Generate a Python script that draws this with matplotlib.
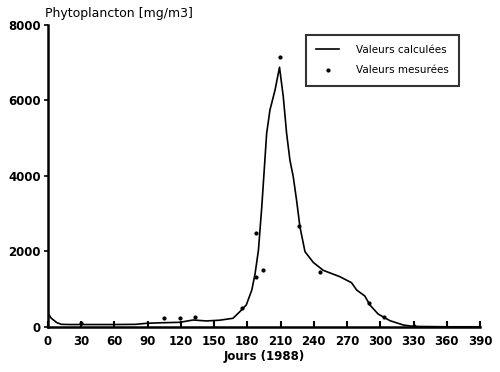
import matplotlib
matplotlib.use("Agg")
import matplotlib.pyplot as plt

# calculated values
calc_days = [0, 3, 8, 12, 20, 40, 60, 79, 89, 100, 119, 131, 143, 155, 167,
             173, 179, 184, 187, 190, 193, 195, 197.4, 200.4, 205, 209,
             212.4, 215.4, 218.4, 221.4, 224.4, 227.4, 232, 239.5, 248.5,
             263.5, 274, 278.6, 286, 290.6, 298, 308.7, 320.7, 330, 360, 390]
calc_vals = [363, 230, 115, 70, 65, 65, 65, 70, 97, 110, 124, 185, 160, 180, 230,
             400, 583, 980, 1420, 2040, 3187, 4070, 5130, 5750, 6280, 6880,
             6100, 5130, 4420, 3980, 3360, 2660, 1995, 1710, 1500,
             1332, 1173, 980, 821, 583, 344, 167, 53, 15, 5, 5]

# measured values
meas_days = [30, 105, 119, 133, 175, 188, 188, 194, 209, 227, 246, 290, 303, 330]
meas_vals = [100, 240, 240, 275, 495, 1320, 2500, 1510, 7145, 2680, 1450, 630, 270, 35]

xticks = list(range(0, 391, 30))
yticks = [0, 2000, 4000, 6000, 8000]

fig = plt.figure(figsize=(5, 3.72), dpi=100)
ax = fig.add_axes([0.096, 0.121, 0.864, 0.812])

ax.plot(calc_days, calc_vals, "-", color="black", lw=1.2, label="Valeurs calculées")
ax.plot(meas_days, meas_vals, "o", color="black", ms=2.0, ls="none",
        label="Valeurs mesurées")

ax.set_xlim(0, 390)
ax.set_ylim(0, 8000)
ax.set_xticks(xticks)
ax.set_yticks(yticks)
ax.spines["top"].set_visible(False)
ax.spines["right"].set_visible(False)
for s in ("left", "bottom"):
    ax.spines[s].set_linewidth(1.8)
ax.tick_params(axis="x", direction="in", length=4, width=1.5, pad=6)
ax.tick_params(axis="y", direction="out", length=3, width=1.2, pad=2)
for lab in ax.get_xticklabels() + ax.get_yticklabels():
    lab.set_fontsize(8.5)
    lab.set_fontweight("bold")

ax.set_xlabel("Jours (1988)", fontsize=8.5, fontweight="bold", labelpad=1)
fig.text(0.09, 0.945, "Phytoplancton [mg/m3]", fontsize=9,
         ha="left", va="bottom")

leg = ax.legend(loc="upper left", bbox_to_anchor=(0.585, 0.985), fontsize=7.5,
                frameon=True, fancybox=False, edgecolor="black",
                handlelength=2.2, borderpad=1.0, labelspacing=1.0,
                handletextpad=1.6)
leg.get_frame().set_linewidth(1.5)

fig.savefig("out.png", dpi=100)
